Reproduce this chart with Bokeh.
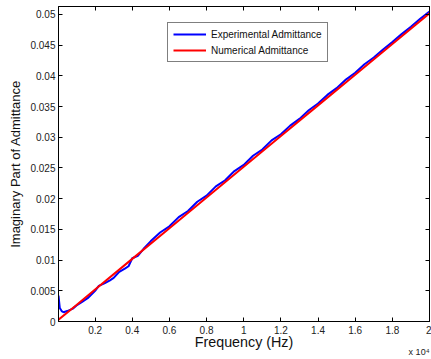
from bokeh.plotting import figure
from bokeh.models import Range1d, LinearAxis, Legend, LegendItem, Title, FixedTicker
from bokeh.embed import file_html
from bokeh.resources import INLINE

# Frequency in units of 10^4 Hz
freq_exp = [0.003, 0.01, 0.02, 0.03, 0.05, 0.08, 0.10, 0.13, 0.16, 0.20, 0.22, 0.25,
            0.28, 0.30, 0.33, 0.36, 0.38, 0.40, 0.43, 0.46, 0.50, 0.55, 0.60, 0.65,
            0.70, 0.75, 0.80, 0.85, 0.90, 0.95, 1.00, 1.05, 1.10, 1.15, 1.20, 1.25,
            1.30, 1.35, 1.40, 1.45, 1.50, 1.55, 1.60, 1.65, 1.70, 1.75, 1.80, 1.85,
            1.90, 1.95, 2.00]
imag_exp = [0.0042, 0.0022, 0.0017, 0.0015, 0.0017, 0.0021, 0.0026, 0.0032, 0.0038,
            0.0050, 0.0058, 0.0062, 0.0067, 0.0071, 0.0081, 0.0086, 0.0090, 0.0103,
            0.0107, 0.0118, 0.0131, 0.0145, 0.0155, 0.0170, 0.0180, 0.0195, 0.0205,
            0.0220, 0.0230, 0.0245, 0.0255, 0.0270, 0.0280, 0.0295, 0.0305, 0.0319,
            0.0330, 0.0344, 0.0355, 0.0369, 0.0380, 0.0394, 0.0405, 0.0419, 0.0430,
            0.0443, 0.0455, 0.0468, 0.0480, 0.0493, 0.0505]

freq_num = [0.003, 0.1, 0.2, 0.4, 0.6, 0.8, 1.0, 1.2, 1.4, 1.6, 1.8, 2.0]
imag_num = [0.0003, 0.0027, 0.0052, 0.0102, 0.0152, 0.0202, 0.0252, 0.0302, 0.0352,
            0.0402, 0.0452, 0.0502]

x_ticks = [0.2, 0.4, 0.6, 0.8, 1.0, 1.2, 1.4, 1.6, 1.8, 2.0]
x_tick_labels = ["0.2", "0.4", "0.6", "0.8", "1", "1.2", "1.4", "1.6", "1.8", "2"]
y_ticks = [0, 0.005, 0.01, 0.015, 0.02, 0.025, 0.03, 0.035, 0.04, 0.045, 0.05]
y_tick_labels = ["0", "0.005", "0.01", "0.015", "0.02", "0.025", "0.03", "0.035",
                 "0.04", "0.045", "0.05"]

FONT = "Liberation Sans"

p = figure(width=431, height=359, output_backend="svg", toolbar_location=None,
           x_range=Range1d(0.003, 2.0), y_range=Range1d(0, 0.0513),
           min_border_left=58, min_border_right=2, min_border_top=6, min_border_bottom=38)
p.grid.visible = False
p.outline_line_color = "black"
p.outline_line_width = 1
p.background_fill_color = "white"

r_exp = p.line(freq_exp, imag_exp, line_color="#0000FF", line_width=2)
r_num = p.line(freq_num, imag_num, line_color="#FF0000", line_width=2)

def style_axis(ax, ticks, labels, show_labels=True):
    ax.ticker = FixedTicker(ticks=ticks)
    ax.major_label_overrides = {t: (l if show_labels else "") for t, l in zip(ticks, labels)}
    ax.major_tick_in = 4
    ax.major_tick_out = 0
    ax.minor_tick_in = 0
    ax.minor_tick_out = 0
    ax.axis_line_color = "black"
    ax.major_tick_line_color = "black"
    ax.major_label_text_font = FONT
    ax.major_label_text_font_size = "10px"
    ax.major_label_text_color = "#222222"
    ax.axis_label_text_font = FONT
    ax.axis_label_text_font_style = "normal"
    ax.axis_label_text_color = "#111111"

style_axis(p.xaxis[0], x_ticks, x_tick_labels)
style_axis(p.yaxis[0], y_ticks, y_tick_labels)
p.xaxis[0].axis_label = "Frequency (Hz)"
p.xaxis[0].axis_label_text_font_size = "14.3px"
p.xaxis[0].axis_label_standoff = -3
p.xaxis[0].major_label_standoff = 4
p.yaxis[0].axis_label = "Imaginary Part of Admittance"
p.yaxis[0].axis_label_text_font_size = "13px"
p.yaxis[0].axis_label_standoff = 4
p.yaxis[0].major_label_standoff = 3

top_ax = LinearAxis()
style_axis(top_ax, x_ticks, x_tick_labels, show_labels=False)
top_ax.major_label_text_font_size = "0px"
top_ax.major_label_standoff = 0
right_ax = LinearAxis()
style_axis(right_ax, y_ticks, y_tick_labels, show_labels=False)
right_ax.major_label_text_font_size = "0px"
right_ax.major_label_standoff = 0
p.add_layout(top_ax, "above")
p.add_layout(right_ax, "right")

legend = Legend(items=[LegendItem(label="Experimental Admittance", renderers=[r_exp]),
                       LegendItem(label="Numerical Admittance", renderers=[r_num])],
                location=(109, 259))
legend.label_text_font = FONT
legend.label_text_font_size = "10px"
legend.label_text_color = "#111111"
legend.glyph_width = 33
legend.glyph_height = 12
legend.label_height = 12
legend.label_standoff = 5
legend.spacing = 4
legend.padding = 5
legend.margin = 0
legend.border_line_color = "black"
legend.border_line_width = 1
legend.background_fill_alpha = 1
p.add_layout(legend, "center")

# axis multiplier, placed in the bottom panel (near-zero-height title)
mult = Title(text="x 10\u2074", align="right", vertical_align="top", offset=0,
             standoff=-11, text_font=FONT, text_font_size="9px",
             text_font_style="normal", text_color="#222222")
p.add_layout(mult, "below")

open("out.html", "w").write(file_html(p, INLINE))
